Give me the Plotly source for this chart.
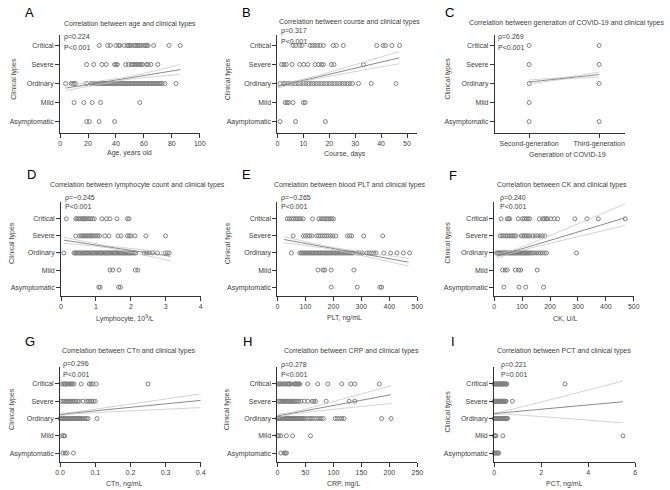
import plotly.graph_objects as go

W, H = 670, 490

# ---------------- data ----------------
type_labels = ["Asymptomatic", "Mild", "Ordinary", "Severe", "Critical"]
type_labels_b = ["Aaymptomatic", "Mild", "Ordinary", "Severe", "Critical"]
type_codes = [1, 2, 3, 4, 5]
generation_labels = ["Second-generation", "Third-generation"]
generation_codes = [1, 2]

# A: age
age_asym = [19, 21, 28, 39]
age_mild = [10, 17, 23, 29, 57]
age_ordinary = [4, 8, 9, 10, 11, 19, 22, 23, 24, 25, 26, 27, 28, 29, 30, 31, 32, 33, 34, 35, 36, 37, 38,
                39, 40, 41, 42, 43, 44, 45, 46, 47, 48, 49, 50, 51, 52, 53, 54, 55, 56, 57, 58, 59, 60, 61,
                62, 63, 64, 65, 66, 67, 68, 69, 70, 71, 72, 73, 75, 83]
age_severe = [19, 24, 30, 33, 39, 40, 41, 47, 49, 51, 52, 53, 54, 55, 56, 57, 58, 59, 62, 63, 65, 70]
age_critical = [28, 34, 36, 40, 42, 43, 46, 48, 49, 50, 51, 53, 54, 55, 56, 57, 58, 60, 61, 62, 63, 67, 78, 86]
age_fit_x = [4, 50, 86]
age_fit_mid = [2.76, 3.30, 3.73]
age_fit_up = [2.89, 3.37, 4.00]
age_fit_lo = [2.63, 3.23, 3.47]
age_ticks = [0, 20, 40, 60, 80, 100]

# B: course
course_asym = [1, 7, 18.5]
course_mild = [3, 3.7, 4.3, 6, 10, 10.7]
course_ordinary = [1, 2.5, 3, 4, 5, 6, 7, 8, 9, 10, 11, 12, 13, 14, 15, 16, 17, 18, 19, 20, 21, 22, 23,
                   24, 25, 26, 27, 28, 29, 31.3, 36.2, 45.8]
course_severe = [1.6, 2.5, 3.4, 5.7, 8.6, 10.1, 11.7, 14.5, 15.8, 17, 17.7, 20.8, 21.8, 33.2]
course_critical = [6, 7, 8.6, 9.5, 12.6, 13.5, 14.5, 15.5, 16.5, 17.7, 21.5, 22.7, 25.4, 38.3, 40.8,
                   41.7, 44.2, 47.1]
course_fit_x = [0, 12, 47]
course_fit_mid = [2.85, 3.23, 4.35]
course_fit_up = [2.94, 3.29, 4.68]
course_fit_lo = [2.76, 3.17, 4.04]
course_ticks = [0, 10, 20, 30, 40, 50]

# C: generation (1 = second, 2 = third)
gen_asym = [1, 2]
gen_mild = [1]
gen_ordinary = [1, 2]
gen_severe = [1, 2]
gen_critical = [1, 2]
gen_fit_x = [1, 1.5, 2]
gen_fit_mid = [3.08, 3.275, 3.47]
gen_fit_up = [3.19, 3.32, 3.60]
gen_fit_lo = [2.97, 3.23, 3.34]

# D: lymphocyte
lym_asym = [1.08, 1.12, 1.65, 1.7]
lym_mild = [1.4, 1.48, 1.66, 2.13, 2.2]
lym_ordinary = [0.08, 0.37, 0.4, 0.43, 0.46, 0.5, 0.53, 0.56, 0.6, 0.63, 0.66, 0.7, 0.73, 0.76, 0.8,
                0.83, 0.86, 0.9, 0.93, 0.96, 1.0, 1.03, 1.06, 1.1, 1.13, 1.16, 1.2, 1.23, 1.26, 1.3,
                1.33, 1.36, 1.4, 1.43, 1.46, 1.5, 1.53, 1.56, 1.6, 1.63, 1.66, 1.7, 1.73, 1.76, 1.8,
                1.83, 1.86, 1.9, 1.93, 1.96, 2.0, 2.03, 2.06, 2.1, 2.14, 2.38, 2.45, 2.52, 2.62, 2.76,
                2.98, 3.04, 3.1]
lym_severe = [0.42, 0.53, 0.58, 0.62, 0.66, 0.7, 0.74, 0.78, 0.82, 0.86, 0.9, 0.95, 1.0, 1.05, 1.1,
              1.25, 1.37, 1.63, 1.72, 1.9, 1.95, 2.0, 2.12, 2.43, 2.99]
lym_critical = [0.15, 0.42, 0.46, 0.5, 0.55, 0.6, 0.63, 0.67, 0.7, 0.75, 0.8, 0.85, 0.9, 0.95, 1.17,
                1.3, 1.4, 1.6, 1.9, 1.95]
lym_fit_x = [0.08, 1.3, 3.13]
lym_fit_mid = [3.75, 3.37, 2.81]
lym_fit_up = [3.92, 3.43, 3.03]
lym_fit_lo = [3.56, 3.31, 2.54]
lym_ticks = [0, 1, 2, 3, 4]

# E: PLT
plt_asym = [192, 285, 366, 372]
plt_mild = [145, 163, 169, 192, 273]
plt_ordinary = [50, 80, 85, 90, 95, 100, 105, 110, 115, 120, 125, 130, 135, 140, 145, 150, 155, 160,
                165, 170, 175, 180, 185, 190, 195, 200, 205, 210, 215, 220, 225, 230, 235, 240, 245,
                250, 255, 260, 265, 270, 283, 290, 297, 304, 320, 328, 336, 344, 352, 380, 404, 427,
                450, 472]
plt_severe = [56, 93, 100, 108, 115, 122, 140, 147, 154, 161, 168, 175, 182, 190, 198, 209, 250, 258,
              265, 308, 376]
plt_critical = [35, 42, 50, 57, 64, 70, 77, 84, 92, 125, 148, 156, 163, 170, 176, 182, 188, 194, 200]
plt_fit_x = [23, 190, 469]
plt_fit_mid = [3.79, 3.29, 2.46]
plt_fit_up = [3.95, 3.35, 2.68]
plt_fit_lo = [3.60, 3.23, 2.23]
plt_ticks = [0, 100, 200, 300, 400, 500]

# F: CK
ck_asym = [35, 89, 113, 177]
ck_mild = [30, 40, 47, 76, 88, 95, 154]
ck_ordinary = [9, 13, 17, 21, 25, 29, 33, 37, 41, 45, 49, 53, 57, 61, 65, 69, 73, 77, 81, 85, 89, 93,
               97, 101, 105, 109, 113, 117, 121, 125, 130, 136, 142, 150, 158, 165, 172, 180, 187, 295]
ck_severe = [21, 28, 35, 42, 48, 54, 60, 66, 72, 78, 97, 103, 109, 115, 121, 127, 138, 147, 156, 165,
             173, 182]
ck_critical = [25, 47, 52, 56, 86, 101, 108, 115, 121, 127, 162, 174, 180, 186, 191, 203, 215, 227,
               289, 332, 373, 469]
ck_fit_x = [10, 70, 469]
ck_fit_mid = [2.81, 3.10, 5.06]
ck_fit_up = [2.95, 3.17, 5.88]
ck_fit_lo = [2.68, 3.03, 4.61]
ck_ticks = [0, 100, 200, 300, 400, 500]

# G: CTn
ctn_asym = [0.008, 0.015, 0.02, 0.038]
ctn_mild = [0.005, 0.01, 0.013]
ctn_ordinary = [0.0, 0.003, 0.006, 0.009, 0.012, 0.015, 0.018, 0.021, 0.024, 0.027, 0.03, 0.033,
                0.036, 0.039, 0.042, 0.045, 0.048, 0.051, 0.054, 0.057, 0.06, 0.063, 0.066, 0.07,
                0.075, 0.08, 0.105]
ctn_severe = [0.003, 0.008, 0.012, 0.016, 0.02, 0.024, 0.028, 0.032, 0.036, 0.04, 0.045, 0.05, 0.055,
              0.065, 0.075, 0.08, 0.085, 0.09, 0.095, 0.1]
ctn_critical = [0.005, 0.01, 0.013, 0.016, 0.02, 0.025, 0.028, 0.032, 0.035, 0.04, 0.06, 0.083, 0.088,
                0.093, 0.103, 0.25]
ctn_fit_x = [0, 0.03, 0.4]
ctn_fit_mid = [3.23, 3.30, 4.05]
ctn_fit_up = [3.31, 3.35, 4.43]
ctn_fit_lo = [3.15, 3.25, 3.63]
ctn_ticks = [0, 0.1, 0.2, 0.3, 0.4]
ctn_ticktext = ["0.0", "0.1", "0.2", "0.3", "0.4"]

# H: CRP
crp_asym = [6, 12, 14, 16]
crp_mild = [0, 2, 6, 16, 27, 59]
crp_ordinary = [0, 1.5, 3, 4.5, 6, 7.5, 9, 10.5, 12, 13.5, 15, 16.5, 18, 19.5, 21, 22.5, 24, 25.5, 27,
                28.5, 30, 31.5, 33, 34.5, 36, 37.5, 39, 40.5, 42, 43.5, 45, 47, 50, 54, 58, 62, 66,
                70, 74, 78, 82, 103, 107, 111, 115, 119, 186, 203]
crp_severe = [2, 4, 6, 8, 10, 12, 14, 16, 18, 20, 22, 24, 26, 28, 30, 32, 35, 38, 42, 48, 54, 62, 65,
              68, 87, 128, 138]
crp_critical = [1, 3, 5, 8, 10, 13, 15, 18, 20, 22, 25, 30, 32, 34, 36, 38, 40, 54, 72, 90, 115, 131,
                138, 182]
crp_fit_x = [0, 30, 203]
crp_fit_mid = [3.15, 3.33, 4.38]
crp_fit_up = [3.24, 3.39, 4.90]
crp_fit_lo = [3.05, 3.27, 3.87]
crp_ticks = [0, 50, 100, 150, 200, 250]

# I: PCT
pct_asym = [0.0, 0.04, 0.08, 0.12, 0.16, 0.2]
pct_mild = [0.0, 0.04, 0.08, 0.37, 5.48]
pct_ordinary = [0.0, 0.03, 0.06, 0.09, 0.12, 0.15, 0.18, 0.21, 0.24, 0.27, 0.3, 0.33, 0.36, 0.39,
                0.42, 0.45, 0.48, 0.51, 0.54, 0.57]
pct_severe = [0.0, 0.03, 0.06, 0.09, 0.12, 0.15, 0.18, 0.21, 0.24, 0.27, 0.3, 0.33, 0.36, 0.39, 0.42,
              0.45, 0.48, 0.51, 0.78]
pct_critical = [0.0, 0.03, 0.06, 0.09, 0.12, 0.15, 0.18, 0.21, 0.24, 0.27, 0.3, 0.33, 0.36, 0.39,
                0.42, 0.45, 0.48, 0.51, 0.54, 3.02]
pct_fit_x = [0, 0.35, 5.48]
pct_fit_mid = [3.28, 3.33, 3.97]
pct_fit_up = [3.32, 3.40, 5.17]
pct_fit_lo = [3.24, 3.26, 2.75]
pct_ticks = [0, 2, 4, 6]

# ---------------- layout spec ----------------
FONT = "Liberation Sans, Arial, sans-serif"
TXT = "#404040"
AXC = "#333333"
PT = "#808080"


def fx(x):
    return x / W


def fy(y):
    return 1 - y / H


panels = [
    dict(letter="A", letter_pos=(25, 13),
         title="Correlation between age and clinical types", title_pos=(127, 24),
         xtitle="Age, years old", xtitle_pos=(127, 153), ytitle_pos=(9, 79),
         rho="ρ=0.224", p="P<0.001", rho_pos=(58, 37), p_pos=(58, 47),
         groups=[age_asym, age_mild, age_ordinary, age_severe, age_critical],
         fit=(age_fit_x, age_fit_mid, age_fit_up, age_fit_lo),
         box=(56, 198, 35, 133), xr=[0, 100], yr=[0.4, 5.55],
         tv=age_ticks, tt=None, yl=type_labels),
    dict(letter="B", letter_pos=(246, 13),
         title="Correlation between course and clinical types", title_pos=(350, 22),
         xtitle="Course, days", xtitle_pos=(346, 154), ytitle_pos=(227, 79),
         rho="ρ=0.317", p="P<0.001", rho_pos=(279, 31), p_pos=(279, 41),
         groups=[course_asym, course_mild, course_ordinary, course_severe, course_critical],
         fit=(course_fit_x, course_fit_mid, course_fit_up, course_fit_lo),
         box=(277, 419, 35, 133), xr=[0, 53.9], yr=[0.4, 5.55],
         tv=course_ticks, tt=None, yl=type_labels_b),
    dict(letter="C", letter_pos=(452, 13),
         title="Correlation between generation of COVID-19 and clinical types", title_pos=(571, 23),
         xtitle="Generation of COVID-19", xtitle_pos=(572, 154), ytitle_pos=(450, 79),
         rho="ρ=0.269", p="P<0.001", rho_pos=(499, 37), p_pos=(499, 47),
         groups=[gen_asym, gen_mild, gen_ordinary, gen_severe, gen_critical],
         fit=(gen_fit_x, gen_fit_mid, gen_fit_up, gen_fit_lo),
         box=(498, 630, 35, 133), xr=[0.51, 2.365], yr=[0.4, 5.55],
         tv=generation_codes, tt=generation_labels, yl=type_labels),
    dict(letter="D", letter_pos=(27, 174),
         title="Correlation between lymphocyte count and clinical types", title_pos=(135, 185),
         xtitle="Lymphocyte, 10<sup>9</sup>/L", xtitle_pos=(122, 318), ytitle_pos=(7, 243),
         rho="ρ=−0.245", p="P<0.001", rho_pos=(59, 198), p_pos=(59, 207),
         groups=[lym_asym, lym_mild, lym_ordinary, lym_severe, lym_critical],
         fit=(lym_fit_x, lym_fit_mid, lym_fit_up, lym_fit_lo),
         box=(57, 199, 201.7, 295.7), xr=[0, 4], yr=[0.5, 6.0],
         tv=lym_ticks, tt=None, yl=type_labels),
    dict(letter="E", letter_pos=(246, 174),
         title="Correlation between blood PLT and clinical types", title_pos=(351, 185),
         xtitle="PLT, ng/mL", xtitle_pos=(345, 318), ytitle_pos=(227, 243),
         rho="ρ=−0.265", p="P<0.001", rho_pos=(279, 198), p_pos=(279, 207),
         groups=[plt_asym, plt_mild, plt_ordinary, plt_severe, plt_critical],
         fit=(plt_fit_x, plt_fit_mid, plt_fit_up, plt_fit_lo),
         box=(277, 419.3, 201.7, 295.7), xr=[0, 500], yr=[0.5, 6.0],
         tv=plt_ticks, tt=None, yl=type_labels),
    dict(letter="F", letter_pos=(455, 175),
         title="Correlation between CK and clinical types", title_pos=(566, 185),
         xtitle="CK, U/L", xtitle_pos=(570, 318), ytitle_pos=(450, 243),
         rho="ρ=0.240", p="P<0.001", rho_pos=(501, 198), p_pos=(501, 207),
         groups=[ck_asym, ck_mild, ck_ordinary, ck_severe, ck_critical],
         fit=(ck_fit_x, ck_fit_mid, ck_fit_up, ck_fit_lo),
         box=(497.3, 639.3, 201.7, 295.7), xr=[0, 500], yr=[0.5, 6.0],
         tv=ck_ticks, tt=None, yl=type_labels),
    dict(letter="G", letter_pos=(25, 341),
         title="Correlation between CTn and clinical types", title_pos=(126, 351),
         xtitle="CTn, ng/mL", xtitle_pos=(121, 484), ytitle_pos=(7, 409),
         rho="ρ=0.296", p="P<0.001", rho_pos=(57, 364), p_pos=(57, 374),
         groups=[ctn_asym, ctn_mild, ctn_ordinary, ctn_severe, ctn_critical],
         fit=(ctn_fit_x, ctn_fit_mid, ctn_fit_up, ctn_fit_lo),
         box=(56, 199, 366.7, 461.7), xr=[0, 0.4], yr=[0.5, 6.0],
         tv=ctn_ticks, tt=ctn_ticktext, yl=type_labels),
    dict(letter="H", letter_pos=(247, 341),
         title="Correlation between CRP and clinical types", title_pos=(352, 351),
         xtitle="CRP, mg/L", xtitle_pos=(344, 484), ytitle_pos=(226, 409),
         rho="ρ=0.278", p="P<0.001", rho_pos=(279, 365), p_pos=(279, 374),
         groups=[crp_asym, crp_mild, crp_ordinary, crp_severe, crp_critical],
         fit=(crp_fit_x, crp_fit_mid, crp_fit_up, crp_fit_lo),
         box=(277, 419.3, 366.7, 461.7), xr=[0, 250], yr=[0.5, 6.0],
         tv=crp_ticks, tt=None, yl=type_labels),
    dict(letter="I", letter_pos=(455, 341),
         title="Correlation between PCT and clinical types", title_pos=(568, 351),
         xtitle="PCT, ng/mL", xtitle_pos=(569, 484), ytitle_pos=(450, 412),
         rho="ρ=0.221", p="P=0.001", rho_pos=(502, 365), p_pos=(502, 374),
         groups=[pct_asym, pct_mild, pct_ordinary, pct_severe, pct_critical],
         fit=(pct_fit_x, pct_fit_mid, pct_fit_up, pct_fit_lo),
         box=(497.3, 640.7, 366.7, 461.7), xr=[0, 6], yr=[0.5, 6.0],
         tv=pct_ticks, tt=None, yl=type_labels),
]

fig = go.Figure()
annotations = []
layout_axes = {}

for i, pnl in enumerate(panels, start=1):
    xa = "x" if i == 1 else f"x{i}"
    ya = "y" if i == 1 else f"y{i}"
    # scatter points per clinical type
    for code, vals in zip(type_codes, pnl["groups"]):
        fig.add_trace(go.Scatter(
            x=vals, y=[code] * len(vals), mode="markers", xaxis=xa, yaxis=ya,
            marker=dict(symbol="circle-open", size=4, color=PT, line=dict(width=1, color=PT)),
            cliponaxis=False, showlegend=False, hoverinfo="skip"))
    fx_, fmid, fup, flo = pnl["fit"]
    for ys, col, wd in [(fup, "#c8c8c8", 0.8), (flo, "#c8c8c8", 0.8), (fmid, "#8a8a8a", 1.0)]:
        fig.add_trace(go.Scatter(
            x=fx_, y=ys, mode="lines", xaxis=xa, yaxis=ya,
            line=dict(color=col, width=wd, shape="spline", smoothing=0.6),
            cliponaxis=False, showlegend=False, hoverinfo="skip"))

    x0, x1, y0, y1 = pnl["box"]
    xkey = "xaxis" if i == 1 else f"xaxis{i}"
    ykey = "yaxis" if i == 1 else f"yaxis{i}"
    xaxis = dict(domain=[fx(x0), fx(x1)], anchor=ya, range=pnl["xr"], showgrid=False,
                 zeroline=False, showline=True, linecolor=AXC, linewidth=1,
                 ticks="outside", ticklen=4, tickwidth=1, tickcolor=AXC,
                 tickvals=pnl["tv"], tickfont=dict(size=7, color=TXT, family=FONT))
    if pnl["tt"] is not None:
        xaxis["ticktext"] = pnl["tt"]
    layout_axes[xkey] = xaxis
    layout_axes[ykey] = dict(domain=[fy(y1), fy(y0)], anchor=xa, range=pnl["yr"], showgrid=False,
                             zeroline=False, showline=True, linecolor=AXC, linewidth=1,
                             ticks="outside", ticklen=4, tickwidth=1, tickcolor=AXC,
                             tickvals=type_codes, ticktext=pnl["yl"],
                             tickfont=dict(size=7, color=TXT, family=FONT))

    def ann(text, pos, size=7, color=TXT, xanchor="center", angle=0):
        annotations.append(dict(text=text, x=fx(pos[0]), y=fy(pos[1]), xref="paper", yref="paper",
                                showarrow=False, xanchor=xanchor, yanchor="middle", textangle=angle,
                                font=dict(size=size, color=color, family=FONT)))

    ann(pnl["letter"], pnl["letter_pos"], size=13, color="#000000")
    ann(pnl["title"], pnl["title_pos"])
    ann(pnl["xtitle"], pnl["xtitle_pos"])
    ann("Clinical types", pnl["ytitle_pos"], angle=-90)
    ann(pnl["rho"], pnl["rho_pos"], xanchor="left")
    ann(pnl["p"], pnl["p_pos"], xanchor="left")

fig.update_layout(
    width=W, height=H, margin=dict(l=0, r=0, t=0, b=0),
    paper_bgcolor="white", plot_bgcolor="white", showlegend=False,
    annotations=annotations, font=dict(family=FONT, size=7, color=TXT),
    **layout_axes)

fig.write_html("out.html", config={"displayModeBar": False, "staticPlot": True},
               post_script="document.body.style.margin='0px';document.body.style.padding='0px';")
